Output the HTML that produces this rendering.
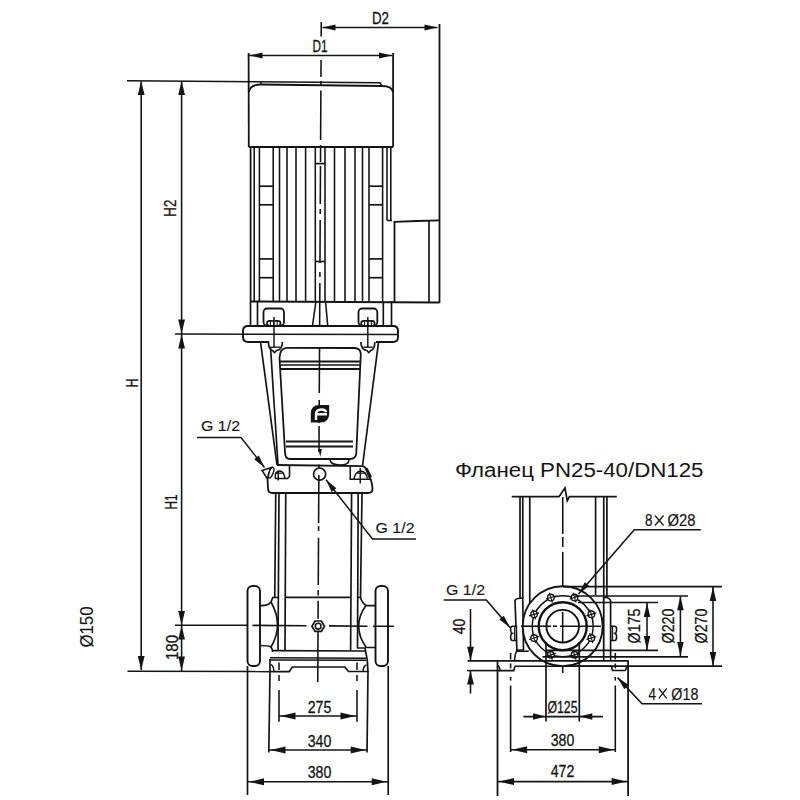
<!DOCTYPE html>
<html><head><meta charset="utf-8"><style>
html,body{margin:0;padding:0;background:#fff;}
svg{display:block;}
text{font-family:"Liberation Sans",sans-serif;fill:#141414;stroke:#141414;stroke-width:0.3px;}
</style></head><body>
<svg width="800" height="800" viewBox="0 0 800 800" stroke="#141414" stroke-linecap="butt" fill="none">
<rect x="0" y="0" width="800" height="800" fill="#fff" stroke="none"/>
<line x1="322.5" y1="27.5" x2="437.5" y2="27.5" stroke-width="1.46" />
<polygon points="322.50,27.50 335.50,24.50 335.50,30.50" fill="#141414" stroke="none"/>
<polygon points="437.50,27.50 424.50,30.50 424.50,24.50" fill="#141414" stroke="none"/>
<line x1="439.5" y1="24" x2="439.5" y2="303" stroke-width="1.79" />
<text x="380.5" y="23.7" font-size="16.5" text-anchor="middle" textLength="17" lengthAdjust="spacingAndGlyphs" >D2</text>
<line x1="249" y1="55.5" x2="392" y2="55.5" stroke-width="1.46" />
<polygon points="249.50,55.50 262.50,52.50 262.50,58.50" fill="#141414" stroke="none"/>
<polygon points="392.00,55.50 379.00,58.50 379.00,52.50" fill="#141414" stroke="none"/>
<line x1="248.6" y1="53" x2="248.8" y2="147" stroke-width="1.79" />
<line x1="393.1" y1="53" x2="393.1" y2="147" stroke-width="1.79" />
<text x="320" y="51.5" font-size="16.5" text-anchor="middle" textLength="15" lengthAdjust="spacingAndGlyphs" >D1</text>
<line x1="321.25" y1="22" x2="321.17" y2="36.5" stroke-width="1.57" />
<line x1="321.05" y1="60" x2="320.96" y2="77" stroke-width="1.57" />
<line x1="320.94" y1="81" x2="320.91" y2="86" stroke-width="1.57" />
<line x1="320.89" y1="90.6" x2="320.62" y2="140" stroke-width="1.57" />
<line x1="320.6" y1="145" x2="320.51" y2="162" stroke-width="1.57" />
<line x1="320.49" y1="166" x2="320.28" y2="204" stroke-width="1.57" />
<line x1="320.26" y1="209" x2="320.23" y2="214" stroke-width="1.57" />
<line x1="320.2" y1="220" x2="319.97" y2="263" stroke-width="1.57" />
<line x1="319.92" y1="272" x2="319.9" y2="277" stroke-width="1.57" />
<line x1="319.87" y1="283" x2="319.61" y2="331" stroke-width="1.57" />
<line x1="319.58" y1="337" x2="319.56" y2="341" stroke-width="1.57" />
<line x1="319.52" y1="348" x2="319.28" y2="393" stroke-width="1.57" />
<line x1="319.25" y1="400" x2="319.22" y2="405" stroke-width="1.57" />
<line x1="319.22" y1="405" x2="319.12" y2="423" stroke-width="1.57" />
<line x1="319.11" y1="426" x2="318.97" y2="452" stroke-width="1.57" />
<line x1="318.9" y1="464.5" x2="318.88" y2="468" stroke-width="1.57" />
<line x1="318.85" y1="475" x2="318.59" y2="523" stroke-width="1.57" />
<line x1="318.58" y1="526" x2="318.55" y2="531" stroke-width="1.57" />
<line x1="318.52" y1="537.7" x2="318.26" y2="585" stroke-width="1.57" />
<line x1="318.24" y1="590" x2="318.21" y2="595.5" stroke-width="1.57" />
<line x1="318.18" y1="600.7" x2="318.08" y2="619" stroke-width="1.57" />
<line x1="318.02" y1="632" x2="317.75" y2="682" stroke-width="1.57" />
<polyline points="127,80.8 380,82.8 382,85.6" fill="none" stroke-width="1.57" />
<path d="M249,92 Q250,84.5 261,84.5 L382,86 Q392,86 393,92" fill="none" stroke-width="1.79" />
<line x1="261" y1="82" x2="261" y2="84.5" stroke-width="1.34" />
<line x1="248.8" y1="147" x2="393.1" y2="147" stroke-width="1.9" />
<line x1="250.6" y1="147" x2="250.6" y2="301" stroke-width="1.79" />
<line x1="254.2" y1="147" x2="254.2" y2="301" stroke-width="1.57" />
<line x1="259.4" y1="147" x2="259.4" y2="301" stroke-width="1.57" />
<line x1="273.2" y1="147" x2="273.2" y2="301" stroke-width="1.57" />
<line x1="279.5" y1="147" x2="279.5" y2="301" stroke-width="1.57" />
<line x1="287" y1="147" x2="287" y2="301" stroke-width="1.57" />
<line x1="296" y1="147" x2="296" y2="301" stroke-width="1.57" />
<line x1="305.6" y1="147" x2="305.6" y2="301" stroke-width="1.57" />
<line x1="315.3" y1="147" x2="315.3" y2="301" stroke-width="1.57" />
<line x1="325" y1="147" x2="325" y2="301" stroke-width="1.57" />
<line x1="334.5" y1="147" x2="334.5" y2="301" stroke-width="1.57" />
<line x1="345" y1="147" x2="345" y2="301" stroke-width="1.57" />
<line x1="355" y1="147" x2="355" y2="301" stroke-width="1.57" />
<line x1="362.5" y1="147" x2="362.5" y2="301" stroke-width="1.57" />
<line x1="369" y1="147" x2="369" y2="301" stroke-width="1.57" />
<line x1="382.6" y1="147" x2="382.6" y2="301" stroke-width="1.57" />
<line x1="387" y1="147" x2="387" y2="220.5" stroke-width="1.57" />
<line x1="390.8" y1="147" x2="390.8" y2="220.5" stroke-width="1.57" />
<line x1="387" y1="220.5" x2="392" y2="220.5" stroke-width="1.57" />
<line x1="250.6" y1="301.5" x2="439.5" y2="302.5" stroke-width="1.9" />
<line x1="259.4" y1="186.2" x2="273.2" y2="186.2" stroke-width="1.68" />
<line x1="369" y1="186.2" x2="382.6" y2="186.2" stroke-width="1.68" />
<line x1="259.4" y1="204.8" x2="273.2" y2="204.8" stroke-width="1.68" />
<line x1="369" y1="204.8" x2="382.6" y2="204.8" stroke-width="1.68" />
<line x1="259.4" y1="258.9" x2="273.2" y2="258.9" stroke-width="1.68" />
<line x1="369" y1="258.9" x2="382.6" y2="258.9" stroke-width="1.68" />
<line x1="259.4" y1="277.7" x2="273.2" y2="277.7" stroke-width="1.68" />
<line x1="369" y1="277.7" x2="382.6" y2="277.7" stroke-width="1.68" />
<line x1="315.3" y1="163.6" x2="325" y2="163.6" stroke-width="1.68" />
<line x1="315.3" y1="261.5" x2="325" y2="261.5" stroke-width="1.68" />
<polyline points="394.5,302.5 394.5,221.8 417,221 439.5,220.3" fill="none" stroke-width="1.79" />
<line x1="429" y1="221" x2="429" y2="303" stroke-width="1.68" />
<line x1="250.5" y1="301" x2="250.5" y2="325.5" stroke-width="1.68" />
<line x1="257.5" y1="301" x2="257.5" y2="325.5" stroke-width="1.68" />
<line x1="383.3" y1="301" x2="383.3" y2="325.5" stroke-width="1.68" />
<line x1="391.5" y1="301" x2="391.5" y2="325.5" stroke-width="1.68" />
<line x1="316" y1="301" x2="312.5" y2="325.5" stroke-width="1.57" />
<line x1="325.5" y1="301" x2="327.7" y2="325.5" stroke-width="1.57" />
<rect x="263.5" y="308.5" width="20.5" height="17" rx="3.5" fill="none" stroke-width="1.79"/>
<rect x="267.0" y="320.8" width="13.5" height="5" rx="2.5" fill="#fff" stroke-width="1.68"/>
<line x1="270.4" y1="320.8" x2="270.4" y2="325.8" stroke-width="1.12" />
<line x1="273.8" y1="320.8" x2="273.8" y2="325.8" stroke-width="1.12" />
<line x1="277.2" y1="320.8" x2="277.2" y2="325.8" stroke-width="1.12" />
<rect x="358.5" y="308.5" width="18.8" height="17" rx="3.5" fill="none" stroke-width="1.79"/>
<rect x="361.15" y="320.8" width="13.5" height="5" rx="2.5" fill="#fff" stroke-width="1.68"/>
<line x1="364.54999999999995" y1="320.8" x2="364.54999999999995" y2="325.8" stroke-width="1.12" />
<line x1="367.95" y1="320.8" x2="367.95" y2="325.8" stroke-width="1.12" />
<line x1="371.34999999999997" y1="320.8" x2="371.34999999999997" y2="325.8" stroke-width="1.12" />
<rect x="243" y="326" width="155" height="16" fill="#fff" stroke="none"/>
<path d="M269,342 L248,342 Q243,342 243,337 L243,331 Q243,326 248,326 L393,326 Q398,326 398,331 L398,337 Q398,342 393,342 L376,342" fill="none" stroke-width="1.9" />
<line x1="175" y1="334" x2="398" y2="334.5" stroke-width="1.57" />
<line x1="274" y1="317" x2="274" y2="347" stroke-width="1.46" />
<line x1="367.8" y1="317" x2="367.8" y2="347" stroke-width="1.46" />
<path d="M268.5,342 Q268.5,349.5 272.5,350.5 L274.5,352.5 L276.5,350.5 Q282.0,350 282.5,342" fill="none" stroke-width="1.68" />
<line x1="270.5" y1="347.2" x2="280.0" y2="347.2" stroke-width="1.34" />
<path d="M374.8,342 Q374.8,349.5 370.8,350.5 L368.8,352.5 L366.8,350.5 Q361.3,350 360.8,342" fill="none" stroke-width="1.68" />
<line x1="372.8" y1="347.2" x2="363.3" y2="347.2" stroke-width="1.34" />
<line x1="260.5" y1="341.8" x2="277" y2="465" stroke-width="1.68" />
<line x1="378.5" y1="342.3" x2="362.5" y2="466" stroke-width="1.68" />
<line x1="270.5" y1="347" x2="278" y2="465" stroke-width="1.68" />
<path d="M279.5,358 Q280,347.8 287,347.8 L355,348 Q360.5,348.5 360.8,354 L356.3,453 Q356,459 350,459 L290,459 Q285,459 285,452 Z" fill="none" stroke-width="1.79" />
<line x1="280" y1="361.5" x2="360" y2="361.5" stroke-width="2.02" />
<line x1="280" y1="365" x2="360" y2="365" stroke-width="1.46" />
<line x1="280" y1="369" x2="360" y2="369" stroke-width="2.02" />
<line x1="286" y1="441.5" x2="353" y2="441.5" stroke-width="1.79" />
<line x1="286" y1="446.5" x2="353" y2="446.5" stroke-width="2.24" />
<path d="M310.8,422.5 L310.8,413.5 Q310.8,405 319.5,405 L329.2,405 L329.2,413.5 Q329.2,422.5 320.5,422.5 Z" fill="#141414" stroke-width="0.0" stroke="none"/>
<path d="M316,420 L316,414.5 Q316,409.5 321.5,409.5 Q325,409.5 326.3,412 M317,414.2 L327,414.2" fill="none" stroke-width="2.35" stroke="#fff"/>
<polygon points="320.20,457.00 318.45,449.00 321.95,449.00" fill="#141414" stroke="none"/>
<path d="M330,460 Q331,465 340,465 Q349,465 349,460" fill="none" stroke-width="1.57" />
<path d="M277,465 L362.5,466.2 Q366,467 369,474 Q372.5,484 372.5,489 Q372.5,493 368,493 L272.5,493 Q268,493 268,488.5 L267.5,479" fill="none" stroke-width="1.79" />
<polyline points="289.5,465.5 289.5,476.5 287.5,478.5 275,478.5" fill="none" stroke-width="1.57" />
<polyline points="350.25,466.5 350.25,479.2 370,479.2" fill="none" stroke-width="1.57" />
<circle cx="319.6" cy="474.1" r="6.1" fill="none" stroke-width="1.68" />
<path d="M275.2,478.5 L275.5,473.5 Q277,471 280.5,471 Q283.5,471.5 285,478" fill="none" stroke-width="1.46" />
<line x1="275.5" y1="473.2" x2="284" y2="473.2" stroke-width="1.23" />
<line x1="278.25" y1="470.5" x2="278.25" y2="480.5" stroke-width="1.46" />
<path d="M354,479 Q355,471.5 361,471 Q366,471.5 367.5,478.5" fill="none" stroke-width="1.46" />
<line x1="357" y1="473.2" x2="365.5" y2="473.2" stroke-width="1.23" />
<line x1="360.25" y1="468" x2="360.25" y2="483.5" stroke-width="1.46" />
<line x1="365.5" y1="468.5" x2="369.5" y2="478.5" stroke-width="1.34" />
<line x1="367" y1="468" x2="371.5" y2="477" stroke-width="1.12" />
<polygon points="262,470.5 271.5,467.5 267.5,479" fill="none" stroke-width="1.57" />
<ellipse cx="271" cy="472.8" rx="2.1" ry="5.6" transform="rotate(22 271 472.8)" fill="#fff" stroke-width="1.4"/>
<line x1="270" y1="468.5" x2="268.5" y2="477" stroke-width="1.01" />
<polyline points="197,437.6 241,437.6 264.5,467.5" fill="none" stroke-width="1.46" />
<polygon points="264.50,467.50 254.11,459.13 258.83,455.43" fill="#141414" stroke="none"/>
<text x="220.5" y="431" font-size="14.5" text-anchor="middle" textLength="39" lengthAdjust="spacingAndGlyphs" style="stroke-width:0.1px">G 1/2</text>
<polyline points="326,479.8 372.5,539 416,539" fill="none" stroke-width="1.46" />
<polygon points="326.00,479.80 336.39,488.17 331.67,491.88" fill="#141414" stroke="none"/>
<text x="395" y="533" font-size="14.5" text-anchor="middle" textLength="39" lengthAdjust="spacingAndGlyphs" style="stroke-width:0.1px">G 1/2</text>
<line x1="275.75" y1="493" x2="274.75" y2="597.5" stroke-width="1.68" />
<line x1="279" y1="493" x2="278" y2="650" stroke-width="1.68" />
<line x1="285.75" y1="493" x2="285" y2="650.6" stroke-width="1.68" />
<line x1="351.6" y1="493" x2="350.6" y2="650.6" stroke-width="1.68" />
<line x1="358.2" y1="493" x2="357.5" y2="648" stroke-width="1.68" />
<line x1="362" y1="493" x2="360.5" y2="597.5" stroke-width="1.68" />
<line x1="285.2" y1="597.3" x2="351" y2="597.3" stroke-width="1.68" />
<polygon points="324.5,626.2 321.34999999999997,631.3961524227067 315.05,631.3961524227067 311.9,626.2 315.05,621.0038475772934 321.34999999999997,621.0038475772934" fill="none" stroke-width="1.68" />
<circle cx="318.2" cy="626.2" r="2.9" fill="none" stroke-width="1.57" />
<line x1="175" y1="625.2" x2="247.5" y2="625.3" stroke-width="1.57" />
<line x1="252.5" y1="625.4" x2="306.5" y2="625.7" stroke-width="1.57" />
<line x1="329" y1="625.9" x2="367.5" y2="626.2" stroke-width="1.57" />
<line x1="373" y1="626.2" x2="394" y2="626.3" stroke-width="1.57" />
<rect x="247.5" y="586" width="12.5" height="80" rx="5" fill="none" stroke-width="1.9"/>
<rect x="375.5" y="586" width="12.5" height="80" rx="5" fill="none" stroke-width="1.9"/>
<path d="M260,605.6 Q268,606 271,602 L272.75,597.5 L278.8,597.5 M271,602 Q284,625 271,647 M260,645.5 Q269,645.5 271,647 Q272.5,649 272.5,652" fill="none" stroke-width="1.68" />
<path d="M375.6,605.6 L366.25,605.6 Q362,603 360.5,597.5 L357.5,597.5 M366.25,605 Q351,626 366.25,647.5 M375.6,647.5 L366.25,647.5 M357,648 L365,648 Q368,660 368,672" fill="none" stroke-width="1.68" />
<line x1="272.5" y1="650.6" x2="365" y2="651" stroke-width="1.68" />
<line x1="270" y1="657.8" x2="366" y2="658.2" stroke-width="1.57" />
<line x1="270" y1="660" x2="366" y2="660.3" stroke-width="1.57" />
<polyline points="270,659 270,671.9" fill="none" stroke-width="1.68" />
<polyline points="270,671.6 289.25,671.6 292.25,667 344.75,667 348.5,671.5 367.5,671.5" fill="none" stroke-width="1.68" />
<path d="M270.6,664.5 Q273.5,665 274,671.6 M363,671.5 Q363.5,665.5 366.5,665" fill="none" stroke-width="1.46" />
<line x1="279" y1="662.5" x2="279" y2="670" stroke-width="1.57" />
<line x1="279" y1="675" x2="279" y2="681" stroke-width="1.57" />
<line x1="279" y1="690" x2="279" y2="721.75" stroke-width="1.57" />
<line x1="357" y1="662.5" x2="357" y2="670" stroke-width="1.57" />
<line x1="357" y1="675" x2="357" y2="681" stroke-width="1.57" />
<line x1="357" y1="690" x2="357" y2="721.75" stroke-width="1.57" />
<line x1="127.5" y1="671.2" x2="270" y2="671.6" stroke-width="1.57" />
<line x1="141.2" y1="81.5" x2="141.2" y2="670" stroke-width="1.57" />
<polygon points="141.20,81.00 144.60,95.00 137.80,95.00" fill="#141414" stroke="none"/>
<polygon points="141.20,670.00 137.80,656.00 144.60,656.00" fill="#141414" stroke="none"/>
<line x1="181.6" y1="81.5" x2="181.6" y2="334" stroke-width="1.57" />
<polygon points="181.60,81.00 185.00,95.00 178.20,95.00" fill="#141414" stroke="none"/>
<polygon points="181.60,333.50 178.20,319.50 185.00,319.50" fill="#141414" stroke="none"/>
<line x1="181.6" y1="334" x2="181.6" y2="671" stroke-width="1.57" />
<polygon points="181.60,334.50 185.00,348.50 178.20,348.50" fill="#141414" stroke="none"/>
<polygon points="181.60,625.00 178.20,611.00 185.00,611.00" fill="#141414" stroke="none"/>
<polygon points="181.60,625.50 185.00,639.50 178.20,639.50" fill="#141414" stroke="none"/>
<polygon points="181.60,670.50 178.20,656.50 185.00,656.50" fill="#141414" stroke="none"/>
<text x="176.5" y="208.2" font-size="16" text-anchor="middle" textLength="17" lengthAdjust="spacingAndGlyphs" transform="rotate(-90 176.5 208.2)" >H2</text>
<text x="138" y="383" font-size="16" text-anchor="middle" textLength="9" lengthAdjust="spacingAndGlyphs" transform="rotate(-90 138 383)" >H</text>
<text x="177" y="502" font-size="16" text-anchor="middle" textLength="15" lengthAdjust="spacingAndGlyphs" transform="rotate(-90 177 502)" >H1</text>
<text x="177.5" y="647.5" font-size="16" text-anchor="middle" textLength="25" lengthAdjust="spacingAndGlyphs" transform="rotate(-90 177.5 647.5)" >180</text>
<text x="92.5" y="627" font-size="18" text-anchor="middle" textLength="41" lengthAdjust="spacingAndGlyphs" transform="rotate(-90 92.5 627)" style="stroke-width:0.05px">Ø150</text>
<line x1="247.5" y1="666" x2="247.5" y2="795" stroke-width="1.68" />
<line x1="388.2" y1="666" x2="388.2" y2="795" stroke-width="1.68" />
<line x1="270" y1="671" x2="268.8" y2="752.4" stroke-width="1.68" />
<line x1="368" y1="671" x2="367" y2="752.4" stroke-width="1.68" />
<line x1="279" y1="716" x2="357" y2="716" stroke-width="1.46" />
<polygon points="280.50,716.00 295.50,712.50 295.50,719.50" fill="#141414" stroke="none"/>
<polygon points="355.50,716.00 340.50,719.50 340.50,712.50" fill="#141414" stroke="none"/>
<line x1="269" y1="750" x2="367.2" y2="750" stroke-width="1.57" />
<polygon points="270.50,750.00 285.50,746.50 285.50,753.50" fill="#141414" stroke="none"/>
<polygon points="365.70,750.00 350.70,753.50 350.70,746.50" fill="#141414" stroke="none"/>
<line x1="247.5" y1="781.8" x2="388.2" y2="781.8" stroke-width="1.46" />
<polygon points="249.00,781.80 264.00,778.30 264.00,785.30" fill="#141414" stroke="none"/>
<polygon points="386.70,781.80 371.70,785.30 371.70,778.30" fill="#141414" stroke="none"/>
<text x="319.5" y="713" font-size="17" text-anchor="middle" textLength="23.6" lengthAdjust="spacingAndGlyphs" >275</text>
<text x="319.5" y="746.5" font-size="17" text-anchor="middle" textLength="23.6" lengthAdjust="spacingAndGlyphs" >340</text>
<text x="319.5" y="777.5" font-size="17" text-anchor="middle" textLength="23.6" lengthAdjust="spacingAndGlyphs" >380</text>
<text x="579.2" y="476.5" font-size="19.5" text-anchor="middle" textLength="248.5" lengthAdjust="spacingAndGlyphs" style="stroke-width:0">Фланец PN25-40/DN125</text>
<polyline points="511.75,496.7 559,496.7 565,488 567.25,500.75 569.5,496.7 616.75,496.7" fill="none" stroke-width="1.68" />
<line x1="520" y1="497" x2="520" y2="598" stroke-width="1.68" />
<line x1="522.75" y1="497" x2="522.75" y2="598" stroke-width="1.68" />
<line x1="529.75" y1="497" x2="529.75" y2="603" stroke-width="1.68" />
<line x1="595.6" y1="497" x2="595.6" y2="595" stroke-width="1.68" />
<line x1="603.75" y1="497" x2="603.75" y2="660" stroke-width="1.68" />
<line x1="606.9" y1="497" x2="606.9" y2="597.5" stroke-width="1.68" />
<line x1="562.75" y1="497" x2="562.75" y2="600" stroke-width="1.57" stroke-dasharray="37 3 10 5 200"/>
<path d="M516.9,650 L515,601 Q515,599 518,598.5 L522.75,598 L523.5,650 Z" fill="#fff" stroke-width="1.68" />
<path d="M516.9,650 Q514.5,655 514.4,661.25" fill="none" stroke-width="1.57" />
<line x1="516.9" y1="651.25" x2="528.75" y2="651.25" stroke-width="1.57" />
<path d="M610.6,660 L610.6,601 Q610,598 606,597.5 L603.75,597.5 L603.75,660" fill="#fff" stroke-width="1.68" />
<path d="M516.4,626.2 L512.4,626.2 Q510.6,626.2 510.6,629 Q510.6,633 512.1,633.3 Q510.6,634 510.6,637 Q510.6,640.5 512.4,640.5 L516.4,640.5 Z" fill="#fff" stroke-width="1.57" />
<line x1="514.6" y1="626.5" x2="514.6" y2="640.2" stroke-width="1.12" />
<path d="M610.8,626.2 L614.8,626.2 Q616.6,626.2 616.6,629 Q616.6,633 615.1,633.3 Q616.6,634 616.6,637 Q616.6,640.5 614.8,640.5 L610.8,640.5 Z" fill="#fff" stroke-width="1.57" />
<line x1="612.6" y1="626.5" x2="612.6" y2="640.2" stroke-width="1.12" />
<circle cx="562.7" cy="626.2" r="40" fill="#fff" stroke-width="1.9" />
<circle cx="562.7" cy="626.2" r="30.5" fill="none" stroke-width="1.46" />
<circle cx="562.7" cy="626.2" r="24" fill="none" stroke-width="2.46" />
<circle cx="562.7" cy="626.2" r="16.3" fill="none" stroke-width="1.9" />
<circle cx="591.34" cy="638.06" r="3.3" fill="#fff" stroke-width="1.34" />
<line x1="586.34" y1="639.56" x2="596.34" y2="636.56" stroke-width="1.12" />
<line x1="589.84" y1="633.06" x2="592.84" y2="643.06" stroke-width="1.12" />
<circle cx="574.56" cy="654.84" r="3.3" fill="#fff" stroke-width="1.34" />
<line x1="569.56" y1="656.34" x2="579.56" y2="653.34" stroke-width="1.12" />
<line x1="573.06" y1="649.84" x2="576.06" y2="659.84" stroke-width="1.12" />
<circle cx="550.84" cy="654.84" r="3.3" fill="#fff" stroke-width="1.34" />
<line x1="545.84" y1="656.34" x2="555.84" y2="653.34" stroke-width="1.12" />
<line x1="549.34" y1="649.84" x2="552.34" y2="659.84" stroke-width="1.12" />
<circle cx="534.06" cy="638.06" r="3.3" fill="#fff" stroke-width="1.34" />
<line x1="529.06" y1="639.56" x2="539.06" y2="636.56" stroke-width="1.12" />
<line x1="532.56" y1="633.06" x2="535.56" y2="643.06" stroke-width="1.12" />
<circle cx="534.06" cy="614.34" r="3.3" fill="#fff" stroke-width="1.34" />
<line x1="529.06" y1="615.84" x2="539.06" y2="612.84" stroke-width="1.12" />
<line x1="532.56" y1="609.34" x2="535.56" y2="619.34" stroke-width="1.12" />
<circle cx="550.84" cy="597.56" r="3.3" fill="#fff" stroke-width="1.34" />
<line x1="545.84" y1="599.06" x2="555.84" y2="596.06" stroke-width="1.12" />
<line x1="549.34" y1="592.56" x2="552.34" y2="602.56" stroke-width="1.12" />
<circle cx="574.56" cy="597.56" r="3.3" fill="#fff" stroke-width="1.34" />
<line x1="569.56" y1="599.06" x2="579.56" y2="596.06" stroke-width="1.12" />
<line x1="573.06" y1="592.56" x2="576.06" y2="602.56" stroke-width="1.12" />
<circle cx="591.34" cy="614.34" r="3.3" fill="#fff" stroke-width="1.34" />
<line x1="586.34" y1="615.84" x2="596.34" y2="612.84" stroke-width="1.12" />
<line x1="589.84" y1="609.34" x2="592.84" y2="619.34" stroke-width="1.12" />
<line x1="521" y1="626.2" x2="551" y2="626.2" stroke-width="1.57" />
<line x1="553" y1="626.2" x2="557" y2="626.2" stroke-width="1.57" />
<line x1="560" y1="626.2" x2="601" y2="626.2" stroke-width="1.57" />
<line x1="562.7" y1="612" x2="562.7" y2="642" stroke-width="1.57" />
<line x1="563" y1="586.7" x2="722" y2="586.7" stroke-width="1.68" />
<line x1="575" y1="596" x2="688" y2="596" stroke-width="1.68" />
<line x1="578" y1="602.5" x2="658" y2="602.5" stroke-width="1.68" />
<line x1="546" y1="650.4" x2="658" y2="650.4" stroke-width="1.68" />
<line x1="542.5" y1="656.8" x2="688" y2="656.8" stroke-width="1.68" />
<line x1="563" y1="666.2" x2="722" y2="666.2" stroke-width="1.68" />
<line x1="467.5" y1="660.8" x2="628.75" y2="660.8" stroke-width="1.79" />
<line x1="515" y1="666.25" x2="611.5" y2="666.25" stroke-width="1.68" />
<polyline points="497.5,670.6 513.75,670.6 515,666.25" fill="none" stroke-width="1.68" />
<polyline points="611.5,666.25 612.5,670.5 625.6,670.5" fill="none" stroke-width="1.68" />
<path d="M497.5,665.5 Q500,666.5 500,671.25 M625.6,670.5 Q626,666.5 628.1,666" fill="none" stroke-width="1.46" />
<line x1="510.6" y1="653" x2="510.6" y2="659.5" stroke-width="1.57" />
<line x1="510.6" y1="663.5" x2="510.6" y2="668.4" stroke-width="1.57" />
<line x1="510.6" y1="677" x2="510.6" y2="680.6" stroke-width="1.57" />
<line x1="510.6" y1="685.5" x2="510.6" y2="752" stroke-width="1.57" />
<line x1="615.3" y1="653" x2="615.3" y2="659.5" stroke-width="1.57" />
<line x1="615.3" y1="663.5" x2="615.3" y2="668.4" stroke-width="1.57" />
<line x1="615.3" y1="677" x2="615.3" y2="680.6" stroke-width="1.57" />
<line x1="615.3" y1="685.5" x2="615.3" y2="752" stroke-width="1.57" />
<line x1="497.5" y1="661.25" x2="497.5" y2="796" stroke-width="1.79" />
<line x1="628.1" y1="661.25" x2="628.1" y2="796" stroke-width="1.79" />
<line x1="546" y1="642" x2="546" y2="721.5" stroke-width="1.68" />
<line x1="579.3" y1="642" x2="579.3" y2="721.5" stroke-width="1.68" />
<line x1="562.7" y1="666.3" x2="562.7" y2="673" stroke-width="1.57" />
<line x1="523.4" y1="716.6" x2="603" y2="716.6" stroke-width="1.57" />
<polygon points="546.00,716.60 533.00,719.85 533.00,713.35" fill="#141414" stroke="none"/>
<polygon points="579.30,716.60 592.30,713.35 592.30,719.85" fill="#141414" stroke="none"/>
<text x="562.5" y="713" font-size="16" text-anchor="middle" textLength="30" lengthAdjust="spacingAndGlyphs" >Ø125</text>
<line x1="510.6" y1="749.8" x2="615.3" y2="749.8" stroke-width="1.57" />
<polygon points="512.10,749.80 527.10,746.30 527.10,753.30" fill="#141414" stroke="none"/>
<polygon points="613.80,749.80 598.80,753.30 598.80,746.30" fill="#141414" stroke="none"/>
<text x="562.5" y="745.5" font-size="17" text-anchor="middle" textLength="23.6" lengthAdjust="spacingAndGlyphs" >380</text>
<line x1="497.5" y1="781.6" x2="628.1" y2="781.6" stroke-width="1.57" />
<polygon points="499.00,781.60 514.00,778.10 514.00,785.10" fill="#141414" stroke="none"/>
<polygon points="626.60,781.60 611.60,785.10 611.60,778.10" fill="#141414" stroke="none"/>
<text x="562.5" y="776.5" font-size="17" text-anchor="middle" textLength="23.6" lengthAdjust="spacingAndGlyphs" >472</text>
<line x1="713" y1="587" x2="713" y2="666" stroke-width="1.57" />
<polygon points="713.00,587.00 716.25,601.00 709.75,601.00" fill="#141414" stroke="none"/>
<polygon points="713.00,666.00 709.75,652.00 716.25,652.00" fill="#141414" stroke="none"/>
<line x1="680.4" y1="596.3" x2="680.4" y2="656" stroke-width="1.57" />
<polygon points="680.40,596.30 683.65,610.30 677.15,610.30" fill="#141414" stroke="none"/>
<polygon points="680.40,656.00 677.15,642.00 683.65,642.00" fill="#141414" stroke="none"/>
<line x1="647" y1="603" x2="647" y2="650" stroke-width="1.57" />
<polygon points="647.00,603.00 650.25,617.00 643.75,617.00" fill="#141414" stroke="none"/>
<polygon points="647.00,650.00 643.75,636.00 650.25,636.00" fill="#141414" stroke="none"/>
<text x="707" y="626" font-size="17" text-anchor="middle" textLength="35" lengthAdjust="spacingAndGlyphs" transform="rotate(-90 707 626)" >Ø270</text>
<text x="673.5" y="626" font-size="17" text-anchor="middle" textLength="35" lengthAdjust="spacingAndGlyphs" transform="rotate(-90 673.5 626)" >Ø220</text>
<text x="640" y="626" font-size="17" text-anchor="middle" textLength="35" lengthAdjust="spacingAndGlyphs" transform="rotate(-90 640 626)" >Ø175</text>
<line x1="470.5" y1="609" x2="470.5" y2="660.8" stroke-width="1.57" />
<polygon points="470.50,660.80 467.10,646.80 473.90,646.80" fill="#141414" stroke="none"/>
<line x1="470.5" y1="671" x2="470.5" y2="693.5" stroke-width="1.57" />
<polygon points="470.50,670.60 473.90,684.60 467.10,684.60" fill="#141414" stroke="none"/>
<line x1="467" y1="670.6" x2="497.5" y2="670.6" stroke-width="1.57" />
<text x="465.2" y="626.5" font-size="16" text-anchor="middle" textLength="15.5" lengthAdjust="spacingAndGlyphs" transform="rotate(-90 465.2 626.5)" >40</text>
<polyline points="443.7,600 486.3,600 510,627.5" fill="none" stroke-width="1.57" />
<polygon points="510.00,627.50 499.24,619.61 503.79,615.69" fill="#141414" stroke="none"/>
<text x="465.5" y="595" font-size="14.5" text-anchor="middle" textLength="39" lengthAdjust="spacingAndGlyphs" style="stroke-width:0.1px">G 1/2</text>
<polyline points="700.8,529.8 634.3,529.8 578.5,594" fill="none" stroke-width="1.57" />
<polygon points="578.50,594.00 584.72,582.20 589.26,586.11" fill="#141414" stroke="none"/>
<text x="648.75" y="526.4" font-size="16.5" text-anchor="middle" textLength="7.5" lengthAdjust="spacingAndGlyphs" style="stroke-width:0.2px">8</text>
<line x1="655" y1="515.5" x2="663.6" y2="525.5" stroke-width="1.23" />
<line x1="663.6" y1="515.5" x2="655" y2="525.5" stroke-width="1.23" />
<text x="681.4" y="526.4" font-size="16.5" text-anchor="middle" textLength="28" lengthAdjust="spacingAndGlyphs" style="stroke-width:0.2px">Ø28</text>
<polyline points="702,703.8 642,703.8 617.6,677.6" fill="none" stroke-width="1.57" />
<polygon points="617.60,677.60 628.68,685.03 624.31,689.13" fill="#141414" stroke="none"/>
<text x="652.25" y="699.6" font-size="16.5" text-anchor="middle" textLength="7.5" lengthAdjust="spacingAndGlyphs" style="stroke-width:0.2px">4</text>
<line x1="658.8" y1="688.5" x2="666.7" y2="698.3" stroke-width="1.23" />
<line x1="666.7" y1="688.5" x2="658.8" y2="698.3" stroke-width="1.23" />
<text x="684.85" y="699.6" font-size="16.5" text-anchor="middle" textLength="27" lengthAdjust="spacingAndGlyphs" style="stroke-width:0.2px">Ø18</text>
</svg></body></html>
